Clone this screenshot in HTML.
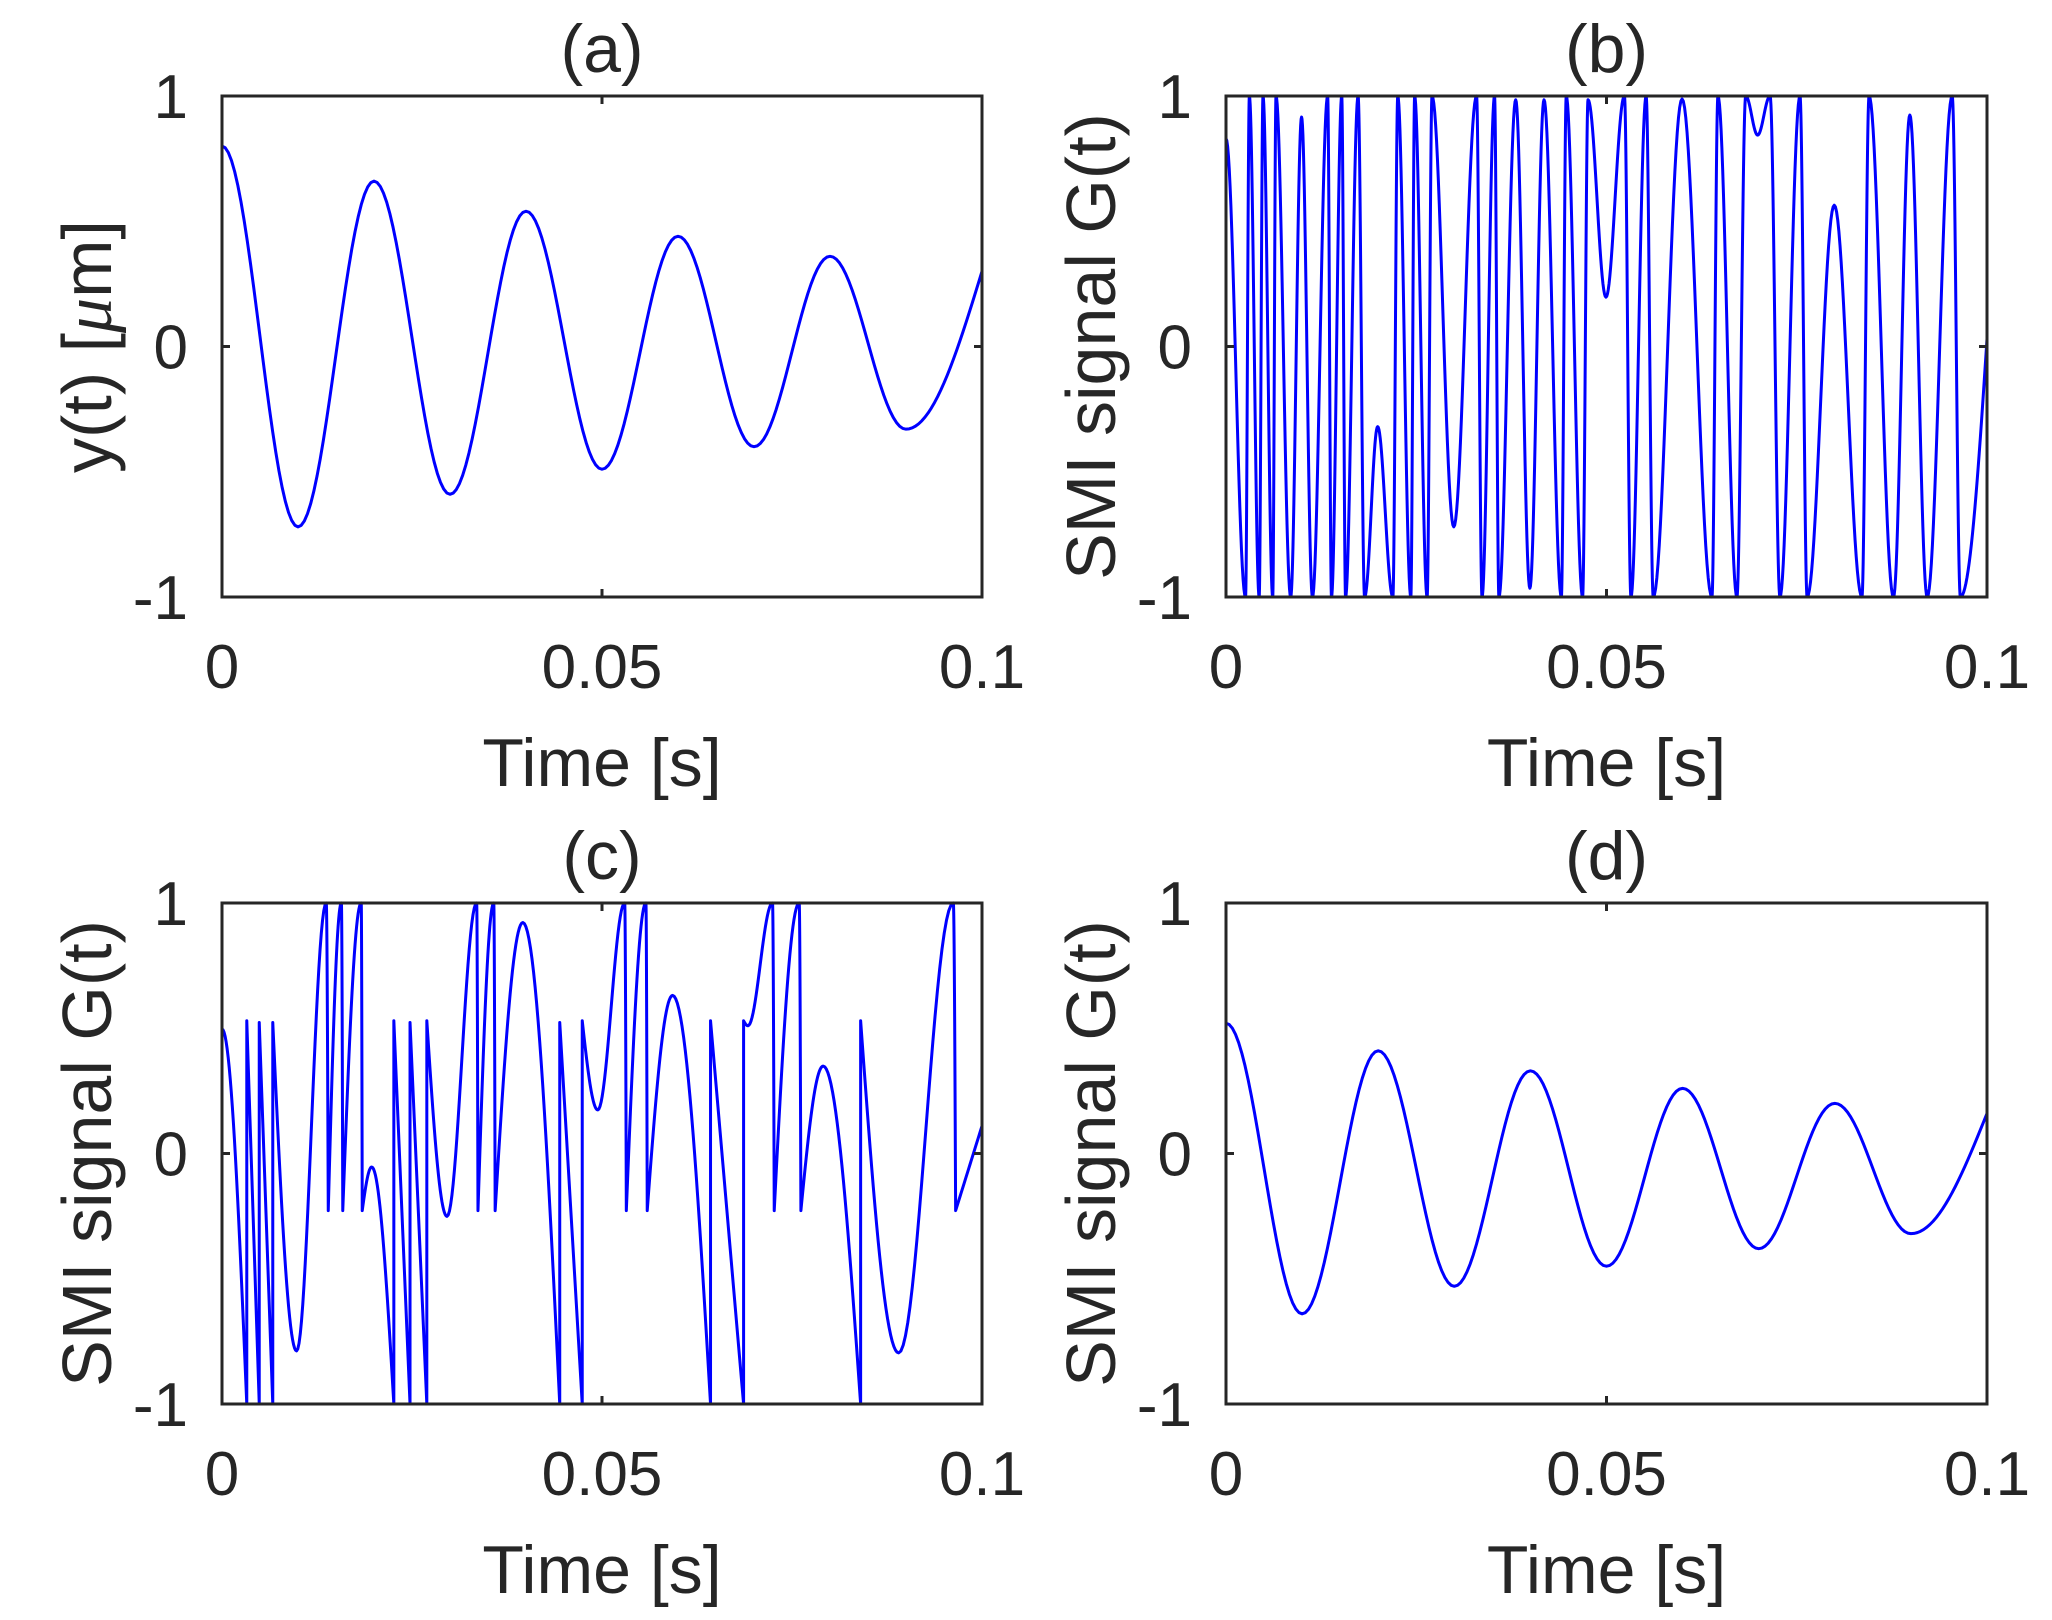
<!DOCTYPE html>
<html><head><meta charset="utf-8"><style>
html,body{margin:0;padding:0;background:#fff;}
svg{display:block;}
text{font-family:"Liberation Sans",Arial,sans-serif;fill:#262626;}
</style></head>
<body>
<svg id="fig" width="2052" height="1620" viewBox="0 0 2052 1620" xmlns="http://www.w3.org/2000/svg"></svg>
<script>
// ---- data ----
// (a) displacement: extrema times and values
const aTimes = [0,0.01,0.02,0.03,0.04,0.05,0.06,0.07,0.08,0.09,0.1];
const aValues = [0.80,-0.72,0.66,-0.59,0.54,-0.49,0.44,-0.40,0.36,-0.33,0.30];
// (d) SMI signal weak feedback: extrema
const dTimes = [0,0.01,0.02,0.03,0.04,0.05,0.06,0.07,0.08,0.09,0.1];
const dValues = [0.52,-0.64,0.41,-0.53,0.33,-0.45,0.26,-0.38,0.20,-0.32,0.16];
// (b) SMI signal: extrema
const bTimes = [0,0.00257,0.00307,0.00436,0.00486,0.00614,0.00657,0.0085,0.00993,0.01136,0.01336,0.01386,0.01521,0.01571,0.01736,0.01821,0.01993,0.02193,0.02257,0.02429,0.02479,0.02643,0.02707,0.02993,0.03293,0.03364,0.03529,0.03586,0.03807,0.03993,0.04179,0.04407,0.04471,0.04686,0.04757,0.04993,0.05236,0.05321,0.05521,0.05614,0.05993,0.06386,0.06464,0.06714,0.06829,0.06986,0.0715,0.07279,0.07543,0.07636,0.07993,0.08357,0.0845,0.08771,0.08986,0.09214,0.09543,0.0965,0.1];
const bValues = [0.83,-1,1,-1,1,-1,1,-1,0.916,-1,1,-1,1,-1,1,-1,-0.32,-1,1,-1,1,-1,1,-0.72,1,-1,1,-1,0.985,-0.965,0.985,-1,1,-1,0.985,0.197,1,-1,1,-1,0.988,-1,1,-1,1,0.844,1,-1,1,-1,0.564,-1,1,-1,0.924,-1,1,-1,0.03];
const bSharp = [];
// (c) SMI signal moderate feedback: knots (1 = sharp corner)
const cTimes = [0,0.00326,0.00326,0.0049,0.0049,0.00668,0.00668,0.00981,0.01372,0.01398,0.01571,0.01589,0.01832,0.01845,0.0197,0.02261,0.02261,0.02474,0.02474,0.02695,0.02695,0.0296,0.03351,0.03368,0.03576,0.03594,0.03958,0.04444,0.04444,0.0474,0.0474,0.04944,0.05299,0.0532,0.05578,0.05595,0.05929,0.06428,0.06428,0.06863,0.06863,0.0692,0.07244,0.07266,0.07595,0.07617,0.0791,0.08403,0.08403,0.08903,0.09623,0.09653,0.1];
const cValues = [0.497,-1,0.53,-1,0.523,-1,0.523,-0.788,1,-0.228,1,-0.228,1,-0.228,-0.054,-1,0.53,-1,0.523,-1,0.53,-0.251,1,-0.228,1,-0.228,0.922,-1,0.523,-1,0.53,0.174,1,-0.228,1,-0.228,0.631,-1,0.53,-1,0.53,0.51,1,-0.228,1,-0.228,0.349,-1,0.53,-0.796,1,-0.228,0.11];
const cSharp = [0,1,1,1,1,1,1,0,0,1,0,1,0,1,0,1,1,1,1,1,1,0,0,1,0,1,0,1,1,1,1,0,0,1,0,1,0,1,1,1,1,0,0,1,0,1,0,1,1,0,0,1,1];
const xTicks = [0,0.05,0.1];
const xTickLabels = ["0","0.05","0.1"];
const yTicks = [-1,0,1];
const yTickLabels = ["-1","0","1"];

const NS="http://www.w3.org/2000/svg";
const svg=document.getElementById('fig');
function mk(tag,attrs,parent){const e=document.createElementNS(NS,tag);for(const k in attrs)e.setAttribute(k,attrs[k]);(parent||svg).appendChild(e);return e;}

function buildPath(times,values,sharp,xs,ys){
  let d="M"+xs(times[0]).toFixed(2)+","+ys(values[0]).toFixed(2);
  for(let i=0;i<times.length-1;i++){
    const sa=sharp.length?sharp[i]:0, sb=sharp.length?sharp[i+1]:(i+1===times.length-1?1:0);
    const N=24;
    for(let k=1;k<=N;k++){
      const u=k/N;let f;
      if(!sa&&!sb) f=(1-Math.cos(Math.PI*u))/2;
      else if(!sa&&sb) f=1-Math.cos(u*Math.PI/2);
      else if(sa&&!sb) f=Math.sin(u*Math.PI/2);
      else f=u;
      const t=times[i]+(times[i+1]-times[i])*u;
      const v=values[i]+(values[i+1]-values[i])*f;
      d+=" L"+xs(t).toFixed(2)+","+ys(v).toFixed(2);
    }
  }
  return d;
}

function panel(id,L,R,T,B,title,ylabel,times,values,sharp){
  const g=mk('g',{});
  
  
  const xs=t=>L+(t-0)/(0.1-0)*(R-L);
  const ys=v=>B-(v+1)/2*(B-T);
  const clipId='clip'+id;
  const cp=mk('clipPath',{id:clipId},g);
  mk('rect',{x:L,y:T-2,width:R-L,height:B-T+4},cp);
  const line=mk('path',{d:buildPath(times,values,sharp,xs,ys),fill:'none',stroke:'#0000ff','stroke-width':3,'stroke-linejoin':'round','clip-path':'url(#'+clipId+')'},g);
  
  
  const box=mk('rect',{x:L,y:T,width:R-L,height:B-T,fill:'none',stroke:'#262626','stroke-width':3},g);
  
  
  xTicks.forEach((t,i)=>{
    const x=xs(t);
    mk('line',{x1:x,y1:B,x2:x,y2:B-8,stroke:'#262626','stroke-width':3},g);
    mk('line',{x1:x,y1:T,x2:x,y2:T+8,stroke:'#262626','stroke-width':3},g);
    const tx=mk('text',{x:x,y:B+91,'font-size':62,'text-anchor':'middle'},g);
    tx.textContent=xTickLabels[i];
    
    
  });
  yTicks.forEach((v,i)=>{
    const y=ys(v);
    mk('line',{x1:L,y1:y,x2:L+8,y2:y,stroke:'#262626','stroke-width':3},g);
    mk('line',{x1:R,y1:y,x2:R-8,y2:y,stroke:'#262626','stroke-width':3},g);
    const ty=mk('text',{x:L-34,y:y+22,'font-size':62,'text-anchor':'end'},g);
    ty.textContent=yTickLabels[i];
    
    
  });
  const xl=mk('text',{x:(L+R)/2,y:B+189,'font-size':68,'text-anchor':'middle'},g);
  xl.textContent='Time [s]';
  
  
  const cy=(T+B)/2, cx=L-135+24;
  const yl=mk('text',{x:cx,y:cy,'font-size':70,'text-anchor':'middle',transform:'rotate(-90 '+cx+' '+cy+')'},g);
  yl.innerHTML=ylabel;
  
  
  const tt=mk('text',{x:(L+R)/2,y:T-24,'font-size':68,'text-anchor':'middle'},g);
  tt.textContent=title;
  
  
}
panel('a',222,982,96,597,'(a)','y(t) [<tspan font-family="Liberation Serif" font-style="italic">μ</tspan>m]',aTimes,aValues,[]);
panel('b',1226,1987,96,597,'(b)','SMI signal G(t)',bTimes,bValues,bSharp);
panel('c',222,982,903,1404,'(c)','SMI signal G(t)',cTimes,cValues,cSharp);
panel('d',1226,1987,903,1404,'(d)','SMI signal G(t)',dTimes,dValues,[]);
</script>
</body></html>
